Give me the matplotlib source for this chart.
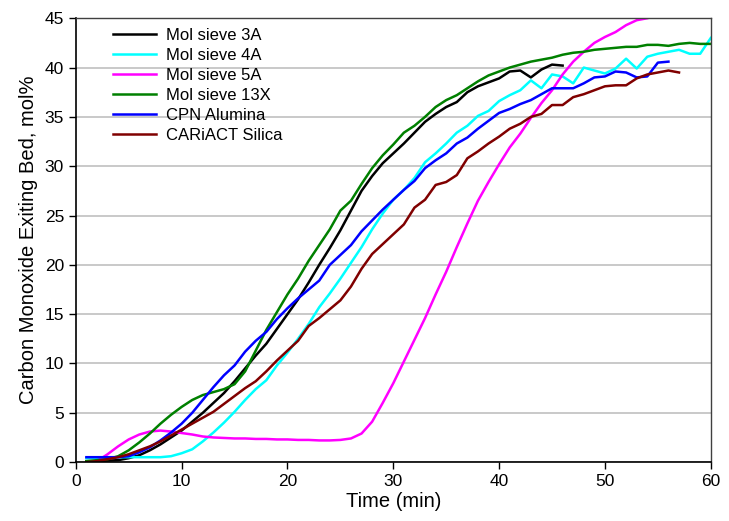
import numpy as np
import matplotlib
matplotlib.use("Agg")
import matplotlib.pyplot as plt

plt.rcParams['font.family'] = ['Liberation Sans', 'DejaVu Sans']

# Mol sieve 3A
t_3a = list(range(1, 47))
co_3a = [0.1, 0.1, 0.15, 0.2, 0.4, 0.7, 1.2, 1.8, 2.5, 3.2,
         4.1, 5.0, 6.0, 7.0, 8.2, 9.5, 10.8, 12.0, 13.5, 15.0,
         16.5, 18.2, 20.0, 21.7, 23.5, 25.5, 27.5, 29.0, 30.3, 31.3,
         32.3, 33.4, 34.5, 35.3, 36.0, 36.5, 37.5, 38.1, 38.5, 38.9,
         39.6, 39.7, 39.0, 39.8, 40.3, 40.2]

# Mol sieve 4A
t_4a = list(range(1, 61))
co_4a = [0.4, 0.4, 0.4, 0.5, 0.5, 0.5, 0.5, 0.5, 0.6, 0.9,
         1.3, 2.1, 3.0, 4.0, 5.1, 6.3, 7.4, 8.3, 9.8, 11.1,
         12.5, 14.0, 15.7, 17.1, 18.6, 20.2, 21.8, 23.6, 25.2, 26.6,
         27.6, 28.8, 30.4, 31.3, 32.3, 33.4, 34.1, 35.1, 35.6, 36.6,
         37.2, 37.7, 38.7, 37.9, 39.3, 39.1, 38.4, 40.0, 39.7, 39.4,
         39.9, 40.9, 39.9, 41.1, 41.4, 41.6, 41.8, 41.4, 41.4, 43.0]

# Mol sieve 5A
t_5a = list(range(2, 56))
co_5a = [0.1, 0.8, 1.6, 2.3, 2.8, 3.1, 3.2, 3.1, 2.95,
         2.8, 2.6, 2.5, 2.45, 2.4, 2.4, 2.35, 2.35, 2.3, 2.3,
         2.25, 2.25, 2.2, 2.2, 2.25, 2.4, 2.9, 4.1, 6.0, 8.0,
         10.2, 12.4, 14.6, 17.0, 19.3, 21.8, 24.2, 26.5, 28.4, 30.2,
         31.9, 33.3, 34.9, 36.4, 37.7, 39.3, 40.6, 41.6, 42.5, 43.1,
         43.6, 44.3, 44.8, 45.0, 45.3]

# Mol sieve 13X
t_13x = list(range(1, 61))
co_13x = [0.1, 0.2, 0.3, 0.6, 1.2, 2.0, 2.9, 3.9, 4.8, 5.6,
          6.3, 6.8, 7.1, 7.4, 7.9, 9.2, 11.3, 13.4, 15.2, 17.0,
          18.6, 20.4, 22.0, 23.6, 25.5, 26.5, 28.2, 29.8, 31.1, 32.2,
          33.4, 34.1, 35.0, 36.0, 36.7, 37.2, 37.9, 38.6, 39.2, 39.6,
          40.0, 40.3, 40.6, 40.8, 41.0, 41.3, 41.5, 41.6, 41.8, 41.9,
          42.0, 42.1, 42.1, 42.3, 42.3, 42.2, 42.4, 42.5, 42.4, 42.4]

# CPN Alumina
t_cpn = list(range(1, 57))
co_cpn = [0.5, 0.5, 0.5, 0.5, 0.6, 1.0, 1.5, 2.2, 3.0, 3.9,
          5.0, 6.3, 7.6, 8.8, 9.8, 11.2, 12.3, 13.2, 14.5, 15.6,
          16.6, 17.5, 18.4, 20.0, 21.0, 22.0, 23.4, 24.5, 25.6, 26.6,
          27.6, 28.5, 29.8, 30.6, 31.3, 32.3, 32.9, 33.8, 34.6, 35.4,
          35.8, 36.3, 36.7, 37.3, 37.9, 37.9, 37.9, 38.4, 39.0, 39.1,
          39.6, 39.5, 39.0, 39.1, 40.5, 40.6]

# CARiACT Silica
t_sil = list(range(1, 58))
co_sil = [0.0, 0.1, 0.3, 0.5, 0.8, 1.2, 1.6, 2.1, 2.7, 3.3,
          3.9, 4.5, 5.1, 5.9, 6.7, 7.5, 8.2, 9.2, 10.3, 11.3,
          12.3, 13.8, 14.6, 15.5, 16.4, 17.8, 19.6, 21.1, 22.1, 23.1,
          24.1, 25.8, 26.6, 28.1, 28.4, 29.1, 30.8, 31.5, 32.3, 33.0,
          33.8, 34.3, 35.0, 35.3, 36.2, 36.2, 37.0, 37.3, 37.7, 38.1,
          38.2, 38.2, 38.9, 39.3, 39.5, 39.7, 39.5]

series = [
    ("Mol sieve 3A", t_3a, co_3a, "black"),
    ("Mol sieve 4A", t_4a, co_4a, "cyan"),
    ("Mol sieve 5A", t_5a, co_5a, "magenta"),
    ("Mol sieve 13X", t_13x, co_13x, "green"),
    ("CPN Alumina", t_cpn, co_cpn, "blue"),
    ("CARiACT Silica", t_sil, co_sil, "maroon"),
]

fig = plt.figure(figsize=(7.29, 5.21), dpi=100)
ax = fig.add_axes([0.104, 0.113, 0.871, 0.852])

for name, t, co, col in series:
    ax.plot(t, co, color=col, lw=1.8, label=name)

ax.set_xlim(0, 60)
ax.set_ylim(0, 45)
ax.set_xticks(np.arange(0, 61, 10))
ax.set_yticks(np.arange(0, 46, 5))
ax.yaxis.grid(True, color="#c0c0c0", lw=1.2)
ax.set_axisbelow(True)
ax.tick_params(direction="out", length=5, width=1, labelsize=12.5)
for s in ["left", "bottom"]:
    ax.spines[s].set_color("black")
    ax.spines[s].set_linewidth(1.2)
for s in ["top", "right"]:
    ax.spines[s].set_color("#404040")
    ax.spines[s].set_linewidth(1.0)

ax.set_xlabel("Time (min)", fontsize=14.5, labelpad=2)
ax.set_ylabel("Carbon Monoxide Exiting Bed, mol%", fontsize=14.5, labelpad=5)

ax.legend(loc="upper left", bbox_to_anchor=(0.035, 1.012), frameon=False,
          fontsize=12, handlelength=2.6, handletextpad=0.6,
          labelspacing=0.3)

fig.savefig("out.png", dpi=100)
